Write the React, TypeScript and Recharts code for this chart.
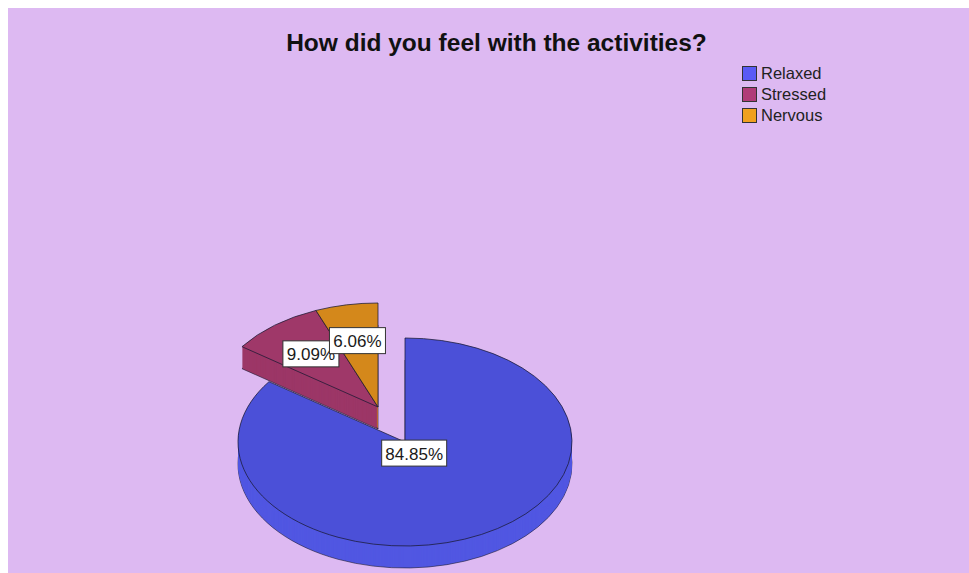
import { Cell, Legend, Pie, PieChart } from 'recharts'

const categories = ['Relaxed', 'Stressed', 'Nervous']
const shares = [84.85, 9.09, 6.06]
const topColors = ['#4b50d8', '#9f3869', '#d4881b']
const sideColors = ['#5157e2', '#9c3767', '#c47e1a']
const legendColors = ['#5a5af5', '#b03c78', '#f0a020']
// Stressed and Nervous are pulled out of the pie
const exploded = [false, true, true]
const labelReach = [0.12, 0.65, 0.65]

const data = categories.map((name, i) => ({ name, value: shares[i] }))

const W = 977
const H = 565
const CX = 397
const CY = 434
const RX = 167
const RY = 104
const SY = RY / RX
const DEPTH = 22
const SHIFT = { x: -27, y: -35 }
const FONT = '"Liberation Sans", Arial, sans-serif'

const layerClass = (back: boolean, dy: number) => `tilt-${back ? 'b' : 'f'}-${dy}`

// flatten each circle into an ellipse, dy pixels below the top face
let tiltCss = '.pie3d { vector-effect: non-scaling-stroke; transform-origin: 0 0; }\n'
for (const back of [true, false]) {
  const cy = CY + (back ? SHIFT.y : 0)
  for (let dy = 0; dy <= DEPTH; dy++) {
    const t = cy + dy - SY * cy
    tiltCss += `.${layerClass(back, dy)} { transform: translate(0px, ${t}px) scale(1, ${SY}); }\n`
  }
}

function slab(back: boolean, dy: number, kind: 'side' | 'bottom' | 'top') {
  const cx = CX + (back ? SHIFT.x : 0)
  const cy = CY + (back ? SHIFT.y : 0)
  return (
    <Pie
      key={`${back ? 'b' : 'f'}-${kind}-${dy}`}
      data={data}
      dataKey="value"
      nameKey="name"
      cx={cx}
      cy={cy}
      outerRadius={RX}
      startAngle={90}
      endAngle={-270}
      legendType="none"
      isAnimationActive={false}
    >
      {data.map((d, i) => {
        const mine = exploded[i] === back
        return (
          <Cell
            key={d.name}
            className={`pie3d ${layerClass(back, dy)}`}
            fill={mine ? (kind === 'top' ? topColors[i] : sideColors[i]) : 'none'}
            stroke={mine && kind !== 'side' ? '#1a1a33' : 'none'}
            strokeOpacity={kind === 'top' ? 0.75 : 0.6}
            strokeWidth={1}
          />
        )
      })}
    </Pie>
  )
}

function pieGroup(back: boolean) {
  const out = [slab(back, DEPTH, 'bottom')]
  for (let d = DEPTH - 1; d >= 1; d--) out.push(slab(back, d, 'side'))
  out.push(slab(back, 0, 'top'))
  return out
}

function renderLabel(props: any) {
  const { midAngle, index, value } = props
  const cx = CX + (exploded[index] ? SHIFT.x : 0)
  const cy = CY + (exploded[index] ? SHIFT.y : 0)
  const a = (midAngle * Math.PI) / 180
  const x = cx + Math.cos(a) * RX * labelReach[index]
  const y = cy - Math.sin(a) * RY * labelReach[index]
  const text = `${Number(value).toFixed(2)}%`
  const w = text.length * 9 + 11
  return (
    <g key={`lbl-${index}`}>
      <rect x={x - w / 2} y={y - 13} width={w} height={26} fill="#fff" stroke="#333" />
      <text
        x={x}
        y={y + 1}
        textAnchor="middle"
        dominantBaseline="central"
        fontSize={17}
        fontFamily={FONT}
        fill="#1a1a1a"
      >
        {text}
      </text>
    </g>
  )
}

function LegendBox() {
  return (
    <div style={{ fontFamily: FONT, fontSize: 16.5, color: '#222' }}>
      {categories.map((name, i) => (
        <div key={name} style={{ display: 'flex', alignItems: 'center', height: 21 }}>
          <span
            style={{
              width: 13,
              height: 13,
              background: legendColors[i],
              border: '1px solid #333',
              marginRight: 4,
            }}
          />
          <span>{name}</span>
        </div>
      ))}
    </div>
  )
}

export default function App() {
  return (
    <div
      style={{
        position: 'absolute',
        left: 8,
        top: 8,
        width: 961,
        height: H,
        overflow: 'hidden',
        background: '#ddb9f2',
      }}
    >
      <style>{tiltCss}</style>
      <PieChart width={W} height={H} margin={{ top: 0, right: 0, bottom: 0, left: 0 }}>
        <text
          x={488.5}
          y={43}
          textAnchor="middle"
          fontWeight="bold"
          fontSize={24.5}
          fontFamily={FONT}
          fill="#111"
        >
          How did you feel with the activities?
        </text>
        {pieGroup(true)}
        {pieGroup(false)}
        <Pie
          data={data}
          dataKey="value"
          nameKey="name"
          cx={CX}
          cy={CY}
          outerRadius={RX}
          startAngle={90}
          endAngle={-270}
          fill="none"
          stroke="none"
          legendType="square"
          label={renderLabel}
          labelLine={false}
          isAnimationActive={false}
        />
        <Legend
          layout="vertical"
          align="right"
          verticalAlign="top"
          content={LegendBox}
          wrapperStyle={{ left: 734, top: 55, right: 'auto', width: 'auto' }}
        />
      </PieChart>
    </div>
  )
}
